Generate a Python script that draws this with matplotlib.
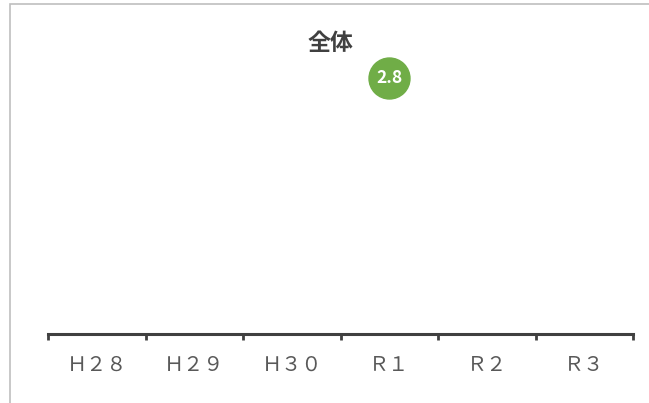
import numpy as np
import matplotlib.pyplot as plt
from matplotlib.patches import Rectangle

plt.rcParams['font.family'] = ['Noto Sans CJK JP', 'DejaVu Sans']

# data
categories = ['Ｈ２８', 'Ｈ２９', 'Ｈ３０', 'Ｒ１', 'Ｒ２', 'Ｒ３']
values = [np.nan, np.nan, np.nan, 2.8, np.nan, np.nan]
title = '全体'

fig = plt.figure(figsize=(6.49, 4.03), dpi=100)
# chart border (cropped on right and bottom)
fig.patches.append(Rectangle((10 / 649, -0.1), 1.2, 1 - 4 / 403 + 0.1,
                             transform=fig.transFigure, fill=False,
                             edgecolor='#bfbfbf', linewidth=1.2))

ax = fig.add_axes([48 / 649, 1 - 334 / 403, (633 - 48) / 649, (334 - 50) / 403])
x = np.arange(len(categories))
ax.plot(x, values, 'o', markersize=29.5, color='#70ad47', zorder=3, clip_on=False)
for xi, v in zip(x, values):
    if not np.isnan(v):
        ax.text(xi, v, f'{v:.1f}', ha='center', va='center', color='white',
                fontsize=12.5, fontweight='bold', zorder=4)

ax.set_xlim(-0.5, len(categories) - 0.5)
ax.set_ylim(0, 3.107)
ax.set_yticks([])
for s in ['left', 'right', 'top']:
    ax.spines[s].set_visible(False)
ax.spines['bottom'].set_color('#404040')
ax.spines['bottom'].set_linewidth(2.2)

ax.set_xticks(np.arange(len(categories) + 1) - 0.5)
ax.set_xticklabels([])
ax.tick_params(axis='x', which='major', direction='out', length=4, width=2, color='#404040')
ax.set_xticks(x, minor=True)
ax.set_xticklabels(categories, minor=True, fontsize=14.5, color='#595959')
ax.tick_params(axis='x', which='minor', length=0, pad=15)

fig.text(330 / 649, 1 - 43 / 403, title, ha='center', va='center',
         fontsize=16.5, fontweight='bold', color='#404040')

fig.savefig('out.png', dpi=100)
